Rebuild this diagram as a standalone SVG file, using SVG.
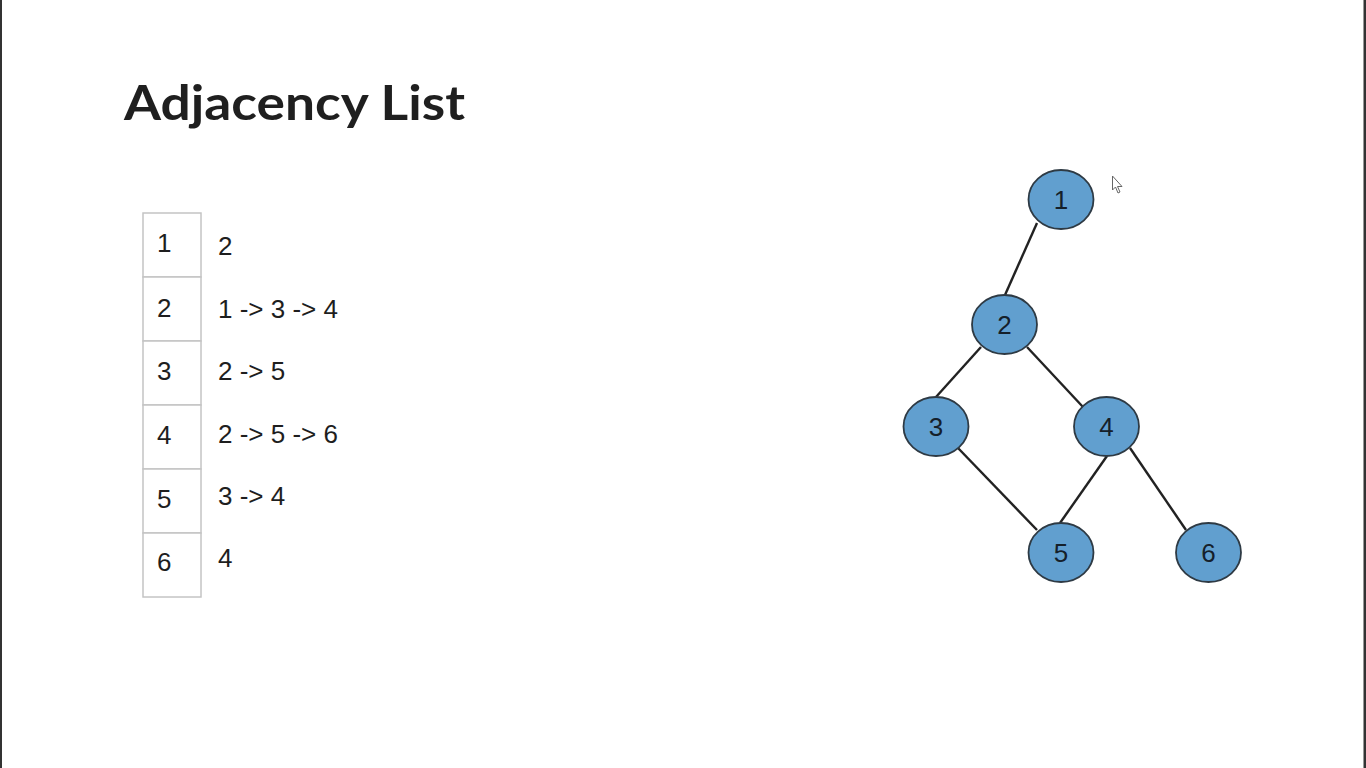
<svg xmlns="http://www.w3.org/2000/svg" width="1366" height="768" viewBox="0 0 1366 768">
<style>
.cell{fill:#fff;stroke:#c4c4c4;stroke-width:1.5}
.t{font-family:"Liberation Sans",Arial,sans-serif;font-size:26px;fill:#1e1e1e}
.node{fill:#619fcf;stroke:#2e3a44;stroke-width:1.8}
.nl{font-family:"Liberation Sans",Arial,sans-serif;font-size:26px;fill:#15202a;text-anchor:middle}
.edge{stroke:#222;stroke-width:2.4;fill:none}
</style>
<rect width="1366" height="768" fill="#fff"/>
<rect x="0" y="0" width="2" height="768" fill="#333"/>
<rect x="1363.5" y="0" width="2.5" height="768" fill="#333"/>
<text x="124" y="120" font-family="Lato,'Open Sans',sans-serif" font-weight="700" font-size="47" fill="#1f1f1f" textLength="341" lengthAdjust="spacingAndGlyphs">Adjacency List</text>
<g id="table">
<rect class="cell" x="143" y="213" width="58" height="64"/>
<rect class="cell" x="143" y="277" width="58" height="64"/>
<rect class="cell" x="143" y="341" width="58" height="64"/>
<rect class="cell" x="143" y="405" width="58" height="64"/>
<rect class="cell" x="143" y="469" width="58" height="64"/>
<rect class="cell" x="143" y="533" width="58" height="64"/>
<text class="t" x="157" y="252">1</text>
<text class="t" x="157" y="317">2</text>
<text class="t" x="157" y="380">3</text>
<text class="t" x="157" y="444">4</text>
<text class="t" x="157" y="508">5</text>
<text class="t" x="157" y="571">6</text>
<text class="t" x="218" y="255">2</text>
<text class="t" x="218" y="318">1 -&gt; 3 -&gt; 4</text>
<text class="t" x="218" y="380">2 -&gt; 5</text>
<text class="t" x="218" y="443">2 -&gt; 5 -&gt; 6</text>
<text class="t" x="218" y="505">3 -&gt; 4</text>
<text class="t" x="218" y="567">4</text>
</g>
<g id="connectors">
<line class="edge" x1="1037" y1="223" x2="1005" y2="295"/>
<line class="edge" x1="981" y1="347" x2="936" y2="397"/>
<line class="edge" x1="1027" y1="347" x2="1083" y2="407"/>
<line class="edge" x1="958" y1="448" x2="1037" y2="530"/>
<line class="edge" x1="1107" y1="456" x2="1060" y2="523"/>
<line class="edge" x1="1130" y1="448" x2="1186" y2="530"/>
</g>
<g id="n1"><ellipse class="node" cx="1061" cy="199.5" rx="32.5" ry="29.5"/><text class="nl" x="1061" y="209">1</text></g>
<g id="n2"><ellipse class="node" cx="1004.5" cy="324.5" rx="32.5" ry="29.5"/><text class="nl" x="1004.5" y="334">2</text></g>
<g id="n3"><ellipse class="node" cx="936" cy="426.5" rx="32.5" ry="29.5"/><text class="nl" x="936" y="436">3</text></g>
<g id="n4"><ellipse class="node" cx="1106.5" cy="426.5" rx="32.5" ry="29.5"/><text class="nl" x="1106.5" y="436">4</text></g>
<g id="n5"><ellipse class="node" cx="1061" cy="552.5" rx="32.5" ry="29.5"/><text class="nl" x="1061" y="562">5</text></g>
<g id="n6"><ellipse class="node" cx="1208.5" cy="552.5" rx="32.5" ry="29.5"/><text class="nl" x="1208.5" y="562">6</text></g>
<polygon points="1112.5,176 1112.5,190 1115.5,187 1118,193 1120,192 1117.5,186.5 1122,186.5" fill="#fff" stroke="#666" stroke-width="1"/>
</svg>
